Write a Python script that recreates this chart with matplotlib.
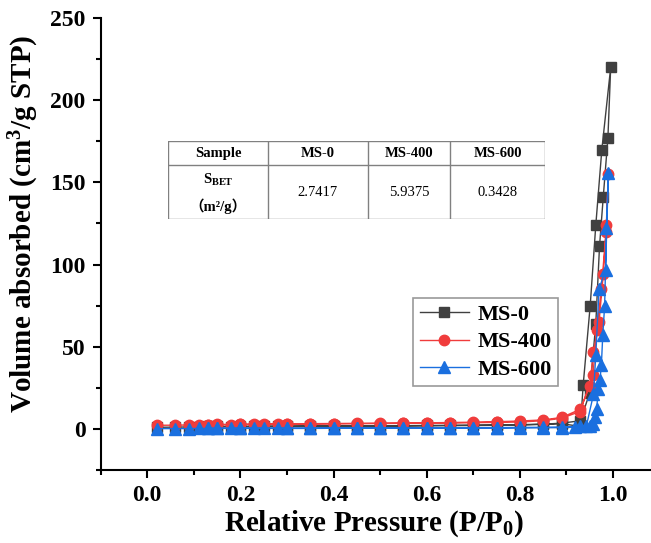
import numpy as np
import matplotlib
matplotlib.use("Agg")
import matplotlib.pyplot as plt
from matplotlib.ticker import MultipleLocator

# fonts: Times-like bold everywhere
plt.rcParams['font.family'] = ['Liberation Serif', 'Noto Sans CJK SC']
plt.rcParams['font.weight'] = 'bold'
plt.rcParams['mathtext.fontset'] = 'custom'
plt.rcParams['mathtext.rm'] = 'Liberation Serif:bold'
plt.rcParams['mathtext.bf'] = 'Liberation Serif:bold'
plt.rcParams['mathtext.it'] = 'Liberation Serif:bold'

# isotherm data (adsorption branch then desorption branch)
ms0_x = [0.02, 0.06, 0.09, 0.11, 0.13, 0.15, 0.18, 0.20, 0.25, 0.30, 0.35, 0.40,
         0.45, 0.50, 0.55, 0.60, 0.65, 0.70, 0.75, 0.80, 0.85, 0.89, 0.93, 0.936,
         0.951, 0.963, 0.976, 0.995,
         0.989, 0.979, 0.971, 0.963, 0.95, 0.93, 0.89, 0.85, 0.80, 0.75, 0.70,
         0.65, 0.60, 0.55, 0.50, 0.45, 0.40, 0.35, 0.30, 0.28, 0.23, 0.20, 0.15, 0.13]
ms0_y = [1.0, 1.1, 1.2, 1.2, 1.3, 1.3, 1.4, 1.4, 1.5, 1.5, 1.6, 1.6,
         1.7, 1.7, 1.8, 1.9, 2.0, 2.1, 2.2, 2.4, 2.8, 3.2, 1.5, 27,
         75, 124, 170, 220,
         177, 141, 111, 64, 22, 5.0, 3.5, 2.9, 2.6, 2.4, 2.3,
         2.2, 2.1, 2.0, 1.9, 1.9, 1.8, 1.8, 1.7, 1.7, 1.6, 1.6, 1.5, 1.5]

ms400_x = [0.02, 0.06, 0.09, 0.11, 0.13, 0.15, 0.18, 0.20, 0.25, 0.30, 0.35, 0.40,
           0.45, 0.50, 0.55, 0.60, 0.65, 0.70, 0.75, 0.80, 0.85, 0.89, 0.929, 0.957,
           0.965, 0.975, 0.985, 0.99,
           0.986, 0.979, 0.97, 0.958, 0.95, 0.93, 0.89, 0.85, 0.80, 0.75, 0.70,
           0.65, 0.60, 0.55, 0.50, 0.45, 0.40, 0.35, 0.30, 0.28, 0.23, 0.20, 0.15, 0.13]
ms400_y = [2.2, 2.3, 2.4, 2.5, 2.5, 2.6, 2.6, 2.7, 2.8, 2.9, 3.0, 3.1,
           3.2, 3.3, 3.4, 3.5, 3.6, 3.8, 4.0, 4.2, 5.0, 6.5, 10.6, 33,
           60, 85, 120, 155,
           124, 94, 65, 47, 26, 12, 7.0, 5.5, 4.8, 4.4, 4.1,
           3.9, 3.7, 3.6, 3.5, 3.4, 3.3, 3.2, 3.1, 3.0, 2.9, 2.8, 2.7, 2.6]

ms600_x = [0.02, 0.06, 0.09, 0.11, 0.13, 0.15, 0.18, 0.20, 0.25, 0.30, 0.35, 0.40,
           0.45, 0.50, 0.55, 0.60, 0.65, 0.70, 0.75, 0.80, 0.85, 0.89, 0.918, 0.943,
           0.958, 0.963, 0.97, 0.984, 0.99,
           0.986, 0.982, 0.978, 0.975, 0.972, 0.968, 0.965, 0.962, 0.958, 0.95,
           0.93, 0.89, 0.85, 0.80, 0.75, 0.70, 0.65, 0.60, 0.55, 0.50, 0.45, 0.40,
           0.35, 0.30, 0.28, 0.23, 0.20, 0.15, 0.13]
ms600_y = [0.2, 0.2, 0.2, 0.3, 0.3, 0.3, 0.3, 0.3, 0.3, 0.3, 0.3, 0.4,
           0.4, 0.4, 0.4, 0.4, 0.5, 0.5, 0.5, 0.6, 0.7, 0.8, 1.0, 2.0,
           21, 45, 85, 97, 156,
           122, 75, 57, 39, 30, 24, 12, 7, 3.3, 2.0,
           1.5, 1.2, 1.0, 0.9, 0.8, 0.8, 0.7, 0.7, 0.7, 0.6, 0.6, 0.6,
           0.5, 0.5, 0.5, 0.5, 0.5, 0.4, 0.4]

# BET table
table_cols = ['Sample', 'MS-0', 'MS-400', 'MS-600']
table_vals = ['2.7417', '5.9375', '0.3428']

fig = plt.figure(figsize=(6.51, 5.43), dpi=100)
ax = fig.add_axes([0.1547, 0.1344, 0.8585, 0.8324])

ax.plot(ms0_x, ms0_y, '-s', color='#404040', lw=1, ms=7, label='MS-0')
ax.plot(ms400_x, ms400_y, '-o', color='#F03C3C', lw=1, ms=7.5, label='MS-400')
ax.plot(ms600_x, ms600_y, '-^', color='#1A6FDF', lw=1, ms=8.5, label='MS-600')

ax.set_xlim(-0.1, 1.1)
ax.set_ylim(-25, 250)
ax.xaxis.set_minor_locator(MultipleLocator(0.1))
ax.yaxis.set_minor_locator(MultipleLocator(25))
ax.set_xticks([0.0, 0.2, 0.4, 0.6, 0.8, 1.0])
ax.set_xticklabels(['0.0', '0.2', '0.4', '0.6', '0.8', '1.0'])
ax.set_yticks([0, 50, 100, 150, 200, 250])

ax.spines['top'].set_visible(False)
ax.spines['right'].set_visible(False)
for s in ['left', 'bottom']:
    ax.spines[s].set_linewidth(1.5)
ax.tick_params(which='major', direction='out', length=6, width=1.5, labelsize=17, pad=5)
ax.tick_params(which='minor', direction='out', length=3.5, width=1.5)

ax.set_xlabel(r'Relative Pressure (P/P$_{0}$)', fontsize=21, fontweight='bold')
ax.set_ylabel(r'Volume absorbed (cm$^{3}$/g STP)', fontsize=21, fontweight='bold')
ax.xaxis.set_label_coords(0.489, -0.085, transform=ax.transAxes)
ax.yaxis.set_label_coords(-0.106, 0.544, transform=ax.transAxes)
ax.xaxis.label.set_va('top')

leg = ax.legend(loc='upper left', bbox_to_anchor=(0.559, 0.3805), fontsize=16,
                frameon=True, fancybox=False, edgecolor='#808080',
                handlelength=2.2, borderpad=0.3, labelspacing=0.3, handletextpad=0.4,
                borderaxespad=0)
leg.get_frame().set_linewidth(1.2)

# table drawn in its own axes
tax = fig.add_axes([168 / 651, 1 - 219 / 543, (545 - 168) / 651, (219 - 141) / 543])
tax.set_xlim(0, 1)
tax.set_ylim(0, 1)
tax.axis('off')
col_edges = [0, 0.265, 0.53, 0.748, 1]
mid = 0.69
lc = '#808080'
for xe in col_edges:
    tax.plot([xe, xe], [0, 1], color=lc, lw=1)
for ye in [0, mid, 1]:
    tax.plot([0, 1], [ye, ye], color=lc, lw=1)
for i, name in enumerate(table_cols):
    cx = (col_edges[i] + col_edges[i + 1]) / 2
    tax.text(cx, (mid + 1) / 2, name, ha='center', va='center', fontsize=10.5, fontweight='bold')
tax.text((col_edges[0] + col_edges[1]) / 2, 0.5, r'S$_{\mathrm{BET}}$', ha='center', va='center',
         fontsize=10.5, fontweight='bold')
tax.text((col_edges[0] + col_edges[1]) / 2, 0.17, '（m²/g）', ha='center', va='center',
         fontsize=10.5, fontweight='bold')
for i, v in enumerate(table_vals):
    cx = (col_edges[i + 1] + col_edges[i + 2]) / 2
    tax.text(cx, mid / 2, v, ha='center', va='center', fontsize=10.5, fontweight='normal')

fig.savefig('out.png', dpi=100)
